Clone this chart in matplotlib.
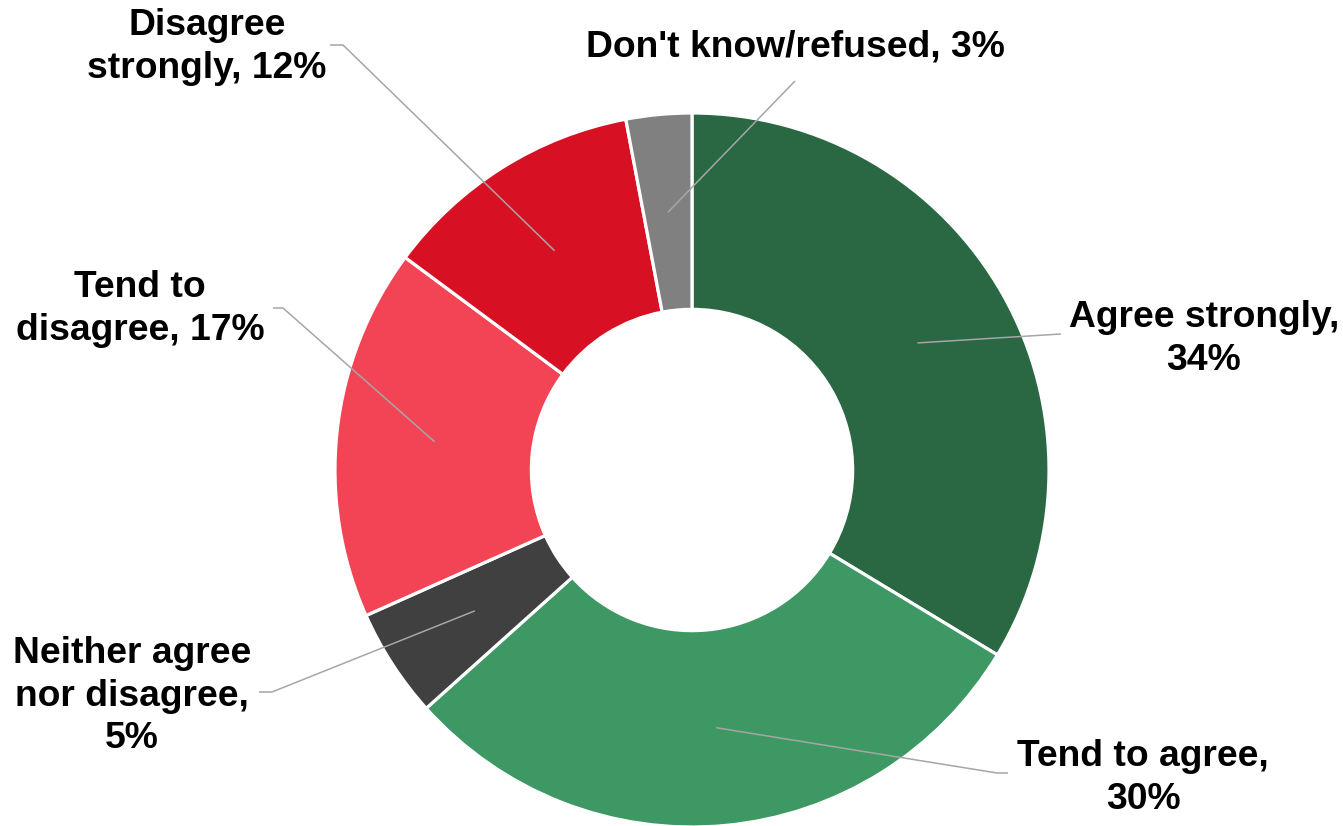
import numpy as np
import matplotlib
matplotlib.use('Agg')
import matplotlib.pyplot as plt

plt.rcParams['font.family'] = ['Liberation Sans', 'DejaVu Sans']

categories = ['Agree strongly', 'Tend to agree', 'Neither agree\nnor disagree',
              'Tend to\ndisagree', 'Disagree\nstrongly', "Don't know/refused"]
shares = [34, 30, 5, 17, 12, 3]
label_texts = ['Agree strongly,\n34%', 'Tend to agree,\n30%', 'Neither agree\nnor disagree,\n5%',
               'Tend to\ndisagree, 17%', 'Disagree\nstrongly, 12%', "Don't know/refused, 3%"]
colours = ['#2A6844', '#3E9863', '#404040', '#F24455', '#D71123', '#808080']

# label anchor, elbow of the leader line, and where the leader line stops (pixels from top-left)
label_pos = [(1204, 339), (1143, 778), (132, 696), (140, 309), (207, 47), (795, 47)]
leader_elbow = [None, (997, 773), (272, 692), (283, 308), (343, 45), None]
leader_end = [(1061, 334), (1008, 773), (259, 692), (273, 308), (330, 45), (795, 81)]

CENTRE_PX = (692, 470)
RADIUS_PX = 357.0
W_PX, H_PX = 1343, 826


def px_to_data(p):
    return ((p[0] - CENTRE_PX[0]) / RADIUS_PX, (CENTRE_PX[1] - p[1]) / RADIUS_PX)


fig = plt.figure(figsize=(13.43, 8.26), dpi=100)
ax = fig.add_axes([0, 0, 1, 1])

wedges, _ = ax.pie(shares, colors=colours, startangle=90, counterclock=False, radius=1.0,
                   wedgeprops=dict(width=0.55, edgecolor='white', linewidth=2.3),
                   frame=True)
ax.set_aspect('equal')
ax.axis('off')
ax.set_xlim(-CENTRE_PX[0] / RADIUS_PX, (W_PX - CENTRE_PX[0]) / RADIUS_PX)
ax.set_ylim((CENTRE_PX[1] - H_PX) / RADIUS_PX, CENTRE_PX[1] / RADIUS_PX)

ring_mid = 1.0 - 0.55 / 2
for i, w in enumerate(wedges):
    ang = np.deg2rad((w.theta1 + w.theta2) / 2)
    start = (ring_mid * np.cos(ang), ring_mid * np.sin(ang))
    pts = [start]
    if leader_elbow[i] is not None:
        pts.append(px_to_data(leader_elbow[i]))
    pts.append(px_to_data(leader_end[i]))
    xs, ys = zip(*pts)
    ax.plot(xs, ys, color='#A6A6A6', lw=1.1, solid_capstyle='butt', zorder=3)

    tx, ty = px_to_data(label_pos[i])
    ax.text(tx, ty, label_texts[i], ha='center', va='center', multialignment='center',
            fontsize=26.8, fontweight='bold', color='black', linespacing=1.28)

fig.savefig('out.png', dpi=100, facecolor='white')
